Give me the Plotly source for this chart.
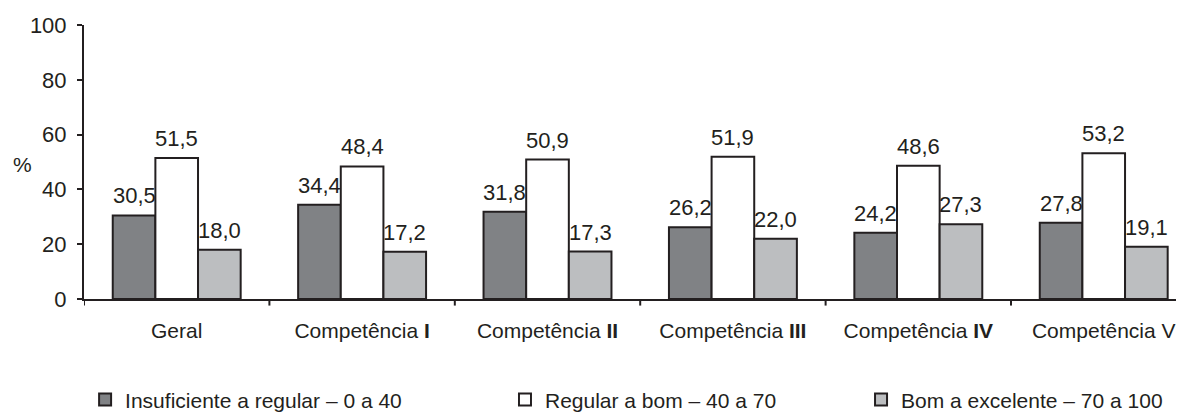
import plotly.graph_objects as go

categories = ["Geral", "Competência <b>I</b>", "Competência <b>II</b>",
              "Competência <b>III</b>", "Competência <b>IV</b>", "Competência V"]
series_names = ["Insuficiente a regular – 0 a 40",
                "Regular a bom – 40 a 70",
                "Bom a excelente – 70 a 100"]
insuficiente = [30.5, 34.4, 31.8, 26.2, 24.2, 27.8]
regular = [51.5, 48.4, 50.9, 51.9, 48.6, 53.2]
bom = [18.0, 17.2, 17.3, 22.0, 27.3, 19.1]

colors = ["#808285", "#ffffff", "#bcbec0"]
ink = "#231f20"
font = "Liberation Sans, Arial, sans-serif"
bar_w = 0.23
offsets = [-0.345, -0.115, 0.115]
legend_ids = ["legend", "legend2", "legend3"]
legend_x = [0.001, 0.3827, 0.7064]

fig = go.Figure()
x_idx = list(range(len(categories)))
for name, vals, col, off, lg in zip(series_names, [insuficiente, regular, bom],
                                    colors, offsets, legend_ids):
    fig.add_trace(go.Bar(
        x=x_idx, y=vals, name=name, legend=lg,
        width=bar_w, offset=off,
        marker=dict(color=col, line=dict(color=ink, width=2)),
        hoverinfo="skip"
    ))
    for i, v in enumerate(vals):
        fig.add_annotation(
            x=i + off + bar_w / 2, y=v, xref="x", yref="y",
            text=f"{v:.1f}".replace(".", ","),
            showarrow=False, yanchor="bottom", yshift=5,
            font=dict(size=22, color=ink, family=font)
        )

fig.add_annotation(x=-0.066, y=49, xref="paper", yref="y", text="%",
                   showarrow=False, font=dict(size=21, color=ink, family=font))

legend_style = dict(orientation="h", xanchor="left", y=-0.368, yanchor="middle",
                    font=dict(size=21, color=ink, family=font), bgcolor="rgba(0,0,0,0)")
# page has an 8px body margin, so the figure is sized to fit the window
fig.update_layout(
    width=1176, height=404,
    margin=dict(l=76, r=0, t=17, b=113, autoexpand=False),
    barmode="overlay",
    plot_bgcolor="white", paper_bgcolor="white",
    font=dict(family=font, color=ink),
    showlegend=True,
    legend=dict(x=legend_x[0], **legend_style),
    legend2=dict(x=legend_x[1], **legend_style),
    legend3=dict(x=legend_x[2], **legend_style),
)
fig.update_xaxes(
    range=[-0.5, 5.433], tickmode="array", tickvals=x_idx, ticktext=categories,
    showline=True, linecolor=ink, linewidth=2,
    ticks="", showgrid=False, zeroline=False,
    tickfont=dict(size=21, color=ink, family=font),
    ticklabelstandoff=12,
)
# boundary ticks between categories
for b in [-0.5, 0.5, 1.5, 2.5, 3.5, 4.5]:
    fig.add_shape(type="line", xref="x", yref="paper", x0=b, x1=b, y0=0, y1=-0.024,
                  line=dict(color=ink, width=2))
fig.update_yaxes(
    range=[0, 100], dtick=20, showline=True, linecolor=ink, linewidth=2,
    ticks="outside", ticklen=5, tickwidth=2, tickcolor=ink,
    showgrid=False, zeroline=False,
    tickfont=dict(size=22, color=ink, family=font),
    ticklabelstandoff=6,
)

fig.write_html("out.html")
